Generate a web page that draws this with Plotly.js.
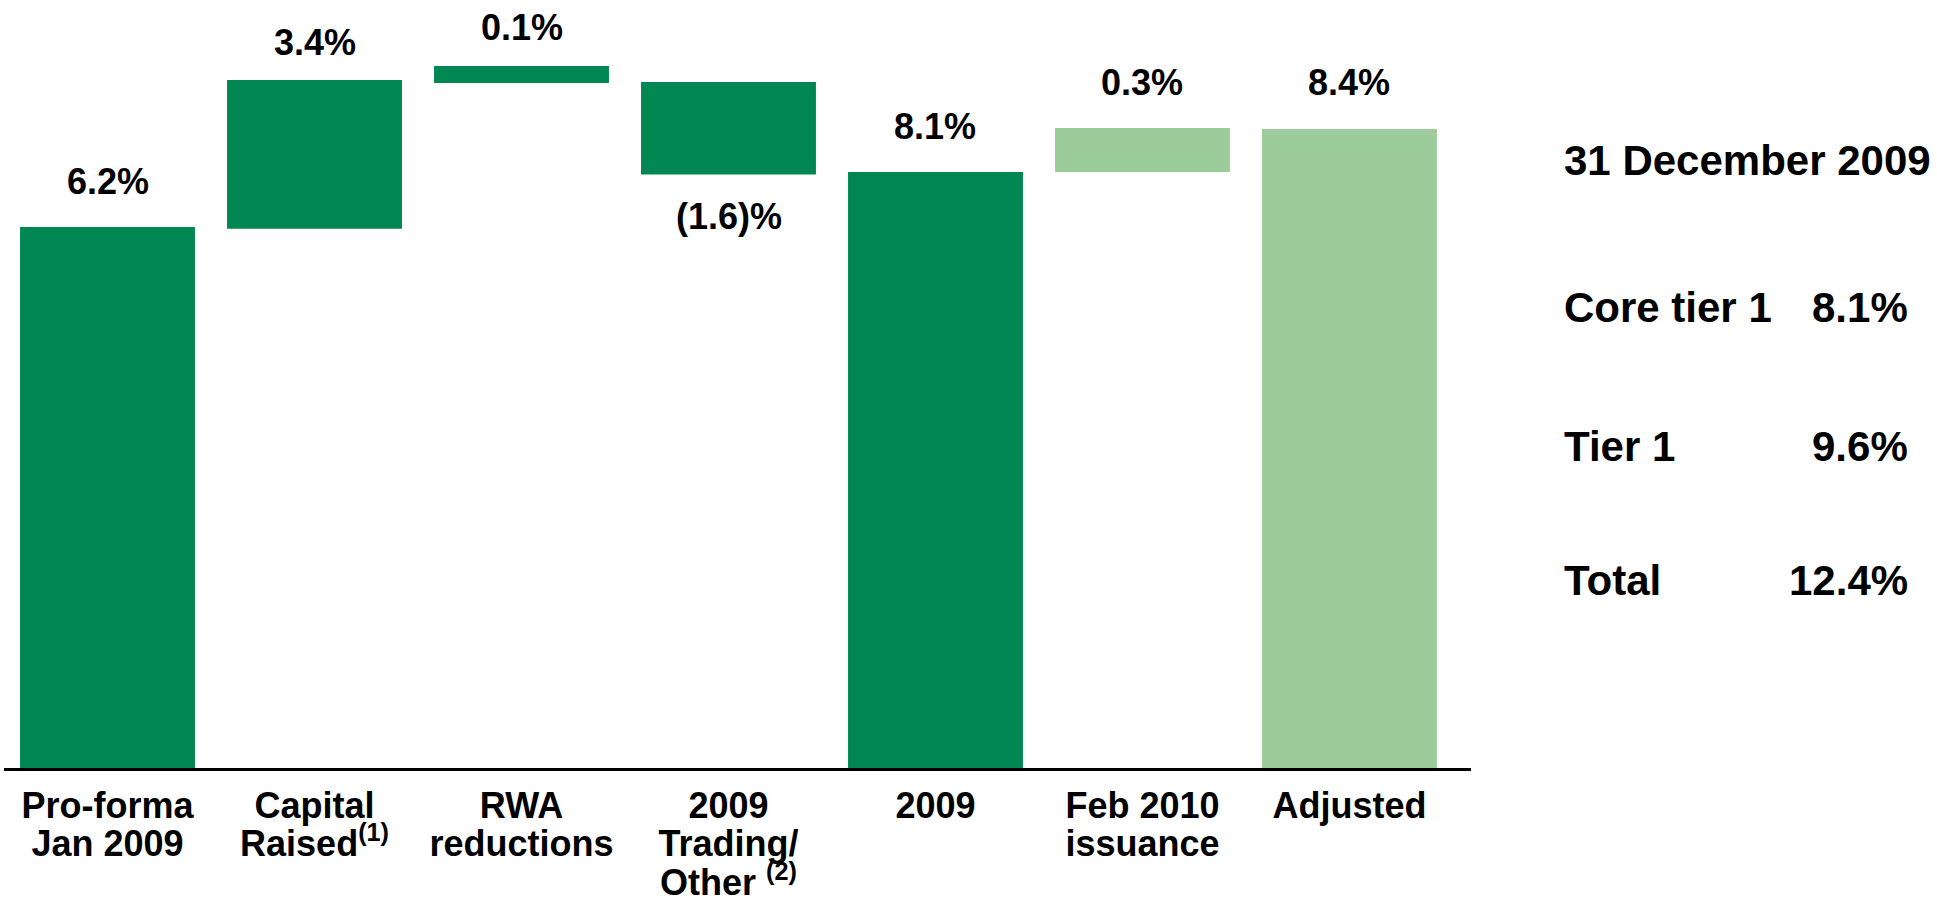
<!DOCTYPE html>
<html>
<head>
<meta charset="utf-8">
<script src="https://cdn.plot.ly/plotly-3.0.1.min.js"></script>
<style>
  html, body { margin: 0; padding: 0; background: #ffffff; }
  #chart { width: 1937px; height: 898px; }
</style>
</head>
<body>
<div id="chart"></div>
<script>
// ---- Data ----
var categories = ['Pro-forma<br>Jan 2009', 'Capital<br>Raised<sup>(1)</sup>', 'RWA<br>reductions',
                  '2009<br>Trading/<br>Other <sup>(2)</sup>', '2009', 'Feb 2010<br>issuance', 'Adjusted'];
// value printed on each bar (%)
var changeValues = [6.2, 3.4, 0.1, -1.6, 8.1, 0.3, 8.4];
// bar extents as drawn in the picture (the original is not drawn to scale)
var barBottom = [0, 6.18, 7.85, 6.80, 0, 6.83, 0];
var barTop    = [6.2, 7.885, 8.045, 7.862, 6.83, 7.334, 7.323];
var barShade  = ['dark', 'dark', 'dark', 'dark', 'dark', 'light', 'light'];
// summary panel
var summaryTitle  = '31 December 2009';
var summaryLabels = ['Core tier 1', 'Tier 1', 'Total'];
var summaryValues = [8.1, 9.6, 12.4];

// ---- Styles ----
var DARK = '#008752';
var LIGHT = '#9BCC99';
var FONT = 'Liberation Sans, Arial, Helvetica, sans-serif';
var LABEL_FONT = { family: FONT, size: 36, color: '#000000', weight: 700 };
var PANEL_FONT = { family: FONT, size: 42, color: '#000000', weight: 700 };
var LABEL_SHIFT = [45, 37, 38, -42, 46, 46, 46];   // px gap from bar end to label centre

function fmt(v) {
  return v < 0 ? '(' + Math.abs(v).toFixed(1) + ')%' : v.toFixed(1) + '%';
}

var idx = categories.map(function (_, i) { return i; });
var lines = categories.map(function (c) { return c.split('<br>'); });
function lineVals(k) { return idx.filter(function (i) { return lines[i].length > k; }); }
function lineTexts(k) { return lineVals(k).map(function (i) { return lines[i][k]; }); }

var traces = [{
  type: 'bar',
  x: idx,
  base: barBottom,
  y: barTop.map(function (t, i) { return t - barBottom[i]; }),
  width: 0.845,
  marker: { color: barShade.map(function (s) { return s === 'dark' ? DARK : LIGHT; }), line: { width: 0 } },
  hoverinfo: 'skip',
  showlegend: false
},
{ type: 'scatter', mode: 'markers', x: [], y: [], xaxis: 'x2', yaxis: 'y', hoverinfo: 'skip', showlegend: false },
{ type: 'scatter', mode: 'markers', x: [], y: [], xaxis: 'x3', yaxis: 'y', hoverinfo: 'skip', showlegend: false }];

var annotations = [];
changeValues.forEach(function (v, i) {
  var neg = v < 0;
  annotations.push({
    x: i, y: neg ? barBottom[i] : barTop[i], xref: 'x', yref: 'y',
    text: fmt(v), showarrow: false,
    xanchor: 'center', yanchor: 'middle',
    yshift: LABEL_SHIFT[i],
    font: LABEL_FONT
  });
});

// summary panel (paper coords relative to plot area)
var panelRows = [0.599, 0.419, 0.2435];
annotations.push({
  x: 1.0620, y: 0.7904, xref: 'paper', yref: 'paper', text: summaryTitle,
  showarrow: false, xanchor: 'left', yanchor: 'middle', font: PANEL_FONT
});
summaryLabels.forEach(function (lab, i) {
  annotations.push({
    x: 1.0620, y: panelRows[i], xref: 'paper', yref: 'paper', text: lab,
    showarrow: false, xanchor: 'left', yanchor: 'middle', font: PANEL_FONT
  });
  annotations.push({
    x: 1.2993, y: panelRows[i], xref: 'paper', yref: 'paper', text: summaryValues[i].toFixed(1) + '%',
    showarrow: false, xanchor: 'right', yanchor: 'middle', font: PANEL_FONT
  });
});

var XRANGE = [-0.5, 6.587];
var STANDOFF = [4, 51, 90];
function labelAxis(k, extra) {
  var ax = {
    type: 'linear', range: XRANGE,
    tickvals: lineVals(k), ticktext: lineTexts(k),
    showgrid: false, zeroline: false,
    ticks: '', ticklabelstandoff: STANDOFF[k],
    tickfont: LABEL_FONT, fixedrange: true
  };
  for (var key in extra) ax[key] = extra[key];
  return ax;
}

var layout = {
  width: 1937, height: 898,
  margin: { l: 4, r: 466, t: 0, b: 130 },
  paper_bgcolor: '#ffffff', plot_bgcolor: '#ffffff',
  showlegend: false,
  xaxis: labelAxis(0, { showline: true, linecolor: '#000000', linewidth: 3 }),
  xaxis2: labelAxis(1, { overlaying: 'x', anchor: 'y', side: 'bottom', showline: false }),
  xaxis3: labelAxis(2, { overlaying: 'x', anchor: 'y', side: 'bottom', showline: false }),
  yaxis: {
    range: [0, 8.801],
    visible: false, showgrid: false, zeroline: false,
    fixedrange: true
  },
  annotations: annotations
};

Plotly.newPlot('chart', traces, layout, { staticPlot: true, displayModeBar: false });
</script>
</body>
</html>
